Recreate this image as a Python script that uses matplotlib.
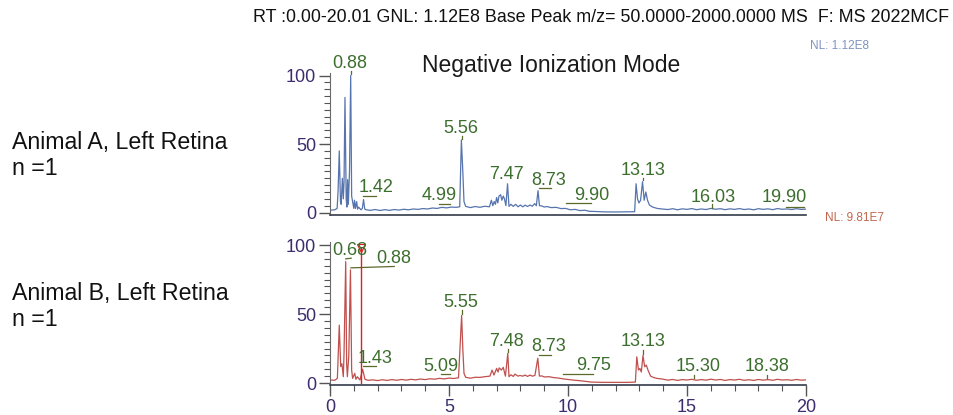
import matplotlib
matplotlib.use('Agg')
import matplotlib.pyplot as plt

plt.rcParams['font.family'] = ['Liberation Sans', 'DejaVu Sans']

time_a = [0.05, 0.20, 0.30, 0.34, 0.39, 0.44, 0.47, 0.52, 0.56, 0.59, 0.63, 0.68, 0.71, 0.74, 0.77,
          0.82, 0.87, 0.91, 0.95, 1.00, 1.03, 1.07, 1.12, 1.16, 1.20, 1.30, 1.36, 1.41, 1.46, 1.52,
          1.7, 1.9, 2.1, 2.3, 2.5, 2.7, 2.9, 3.1, 3.3, 3.5, 3.7, 3.9, 4.1, 4.3, 4.5, 4.7, 4.9, 5.1,
          5.3, 5.45, 5.52, 5.58, 5.63, 5.70, 5.9, 6.1, 6.3, 6.5, 6.7, 6.78, 6.84, 6.90, 6.95, 7.00,
          7.05, 7.10, 7.17, 7.22, 7.28, 7.33, 7.39, 7.46, 7.52, 7.60, 7.70, 7.80, 7.90, 8.00, 8.10,
          8.20, 8.30, 8.40, 8.50, 8.60, 8.67, 8.74, 8.80, 8.90, 9.0, 9.1, 9.3, 9.5, 9.7, 9.9, 10.1,
          10.3, 10.5, 10.7, 10.9, 11.1, 11.5, 12.0, 12.5, 12.8, 12.86, 12.92, 12.98, 13.05, 13.13,
          13.20, 13.27, 13.34, 13.42, 13.55, 13.75, 14.0,
          14.2, 14.4, 14.6, 14.8, 15.0, 15.2, 15.4, 15.6, 15.8, 16.0, 16.2, 16.4, 16.6, 16.8, 17.0,
          17.2, 17.4, 17.6, 17.8, 18.0, 18.2, 18.4, 18.6, 18.8, 19.0, 19.2, 19.4, 19.6, 19.8, 20.0]
intensity_a = [1.8, 2.0, 3.0, 16, 45, 8, 6, 25, 10, 22, 84, 10, 4, 24, 6,
               30, 100, 12, 8, 3, 9, 3, 8, 2.5, 4, 2, 3, 9.5, 2.5, 2,
               1.6, 2.2, 1.5, 2.1, 1.6, 2.2, 1.8, 2.4, 2.0, 2.6, 2.3, 2.9, 2.6, 3.3, 3.0, 3.8, 3.4, 4.0,
               3.8, 4.2, 53, 30, 8, 4.5, 3.6, 4.4, 3.8, 4.6, 4.2, 9, 5, 8, 6, 11,
               7, 12, 13, 9, 12, 10, 5, 21, 4.5, 6, 4.5, 6, 4.2, 5.5, 4.2,
               5.4, 4.4, 5.5, 4.6, 6.5, 5, 16, 5, 4.8, 4.0, 4.4, 3.6, 3.8, 2.9, 3.0, 2.0,
               2.3, 1.4, 1.7, 0.9, 0.8, 0.5, 0.4, 0.5, 0.6, 21, 10, 7, 9, 22.5,
               9, 15, 9, 5.5, 4, 3, 2.5,
               2.2, 2.8, 2.0, 2.7, 2.3, 2.9, 2.1, 2.6, 2.2, 3.0, 2.4, 2.8, 2.1, 2.7, 2.3,
               2.9, 2.2, 2.6, 2.0, 2.8, 2.3, 2.7, 2.1, 2.9, 2.4, 2.6, 2.2, 2.8, 2.3, 2.5]

time_b = [0.05, 0.20, 0.31, 0.39, 0.45, 0.50, 0.56, 0.59, 0.66, 0.70, 0.73, 0.79, 0.86, 0.91, 0.95,
          1.04, 1.09, 1.15, 1.26, 1.37, 1.47, 1.6,
          1.8, 2.0, 2.2, 2.4, 2.6, 2.8, 3.0, 3.2, 3.4, 3.6, 3.8, 4.0, 4.2, 4.4, 4.6, 4.8, 5.0, 5.2,
          5.4, 5.53, 5.58, 5.63, 5.70, 5.9, 6.1, 6.3, 6.5, 6.72, 6.81, 6.89, 7.00, 7.06, 7.11, 7.20,
          7.28, 7.37, 7.47, 7.52, 7.60, 7.70, 7.77, 7.90, 7.98, 8.10, 8.20, 8.30, 8.40, 8.50, 8.61,
          8.73, 8.80, 8.90, 9.0, 9.2, 9.38, 9.6, 9.8, 9.94, 10.1, 10.3, 10.5, 10.7, 10.99, 11.5,
          12.0, 12.5, 12.83, 12.89, 12.96, 13.02, 13.08, 13.15, 13.22, 13.29, 13.36, 13.47, 13.6,
          13.73, 14.0,
          14.2, 14.4, 14.6, 14.8, 15.0, 15.2, 15.4, 15.6, 15.8, 16.0, 16.2, 16.4, 16.6, 16.8, 17.0,
          17.2, 17.4, 17.6, 17.8, 18.0, 18.2, 18.4, 18.6, 18.8, 19.0, 19.2, 19.4, 19.6, 19.8, 20.0]
intensity_b = [2.2, 2.0, 3.4, 42, 12, 14, 4.6, 21.5, 88, 14, 4.6, 20, 82, 9.4, 3.4,
               7, 2.7, 4.6, 2.2, 10, 2.7, 2.0,
               2.3, 1.8, 2.4, 1.9, 2.5, 2.0, 2.6, 2.1, 2.7, 2.3, 2.9, 2.5, 3.1, 2.8, 3.4, 3.0, 3.6, 3.3,
               3.8, 49, 25, 7, 4.2, 3.5, 4.2, 4.1, 4.6, 5, 9.4, 5.8, 10.6, 8, 11, 9.4,
               11.4, 5, 21.5, 4.6, 6, 4.8, 6.5, 5, 5.5, 5, 5.8, 4.8, 5.8, 5, 5.5,
               18, 5, 5.2, 4.4, 4.6, 4.0, 3.6, 3.0, 2.7, 2.4, 2.0, 1.7, 1.3, 0.7, 0.5,
               0.5, 0.5, 0.7, 19, 9.4, 10.6, 8, 20, 11.8, 13, 9.4, 5, 4,
               3.4, 2.8,
               2.1, 2.6, 1.9, 2.5, 2.2, 2.7, 2.0, 2.5, 2.1, 2.8, 2.2, 2.6, 1.9, 2.5, 2.2,
               2.7, 2.0, 2.4, 1.9, 2.6, 2.1, 2.5, 2.0, 2.7, 2.2, 2.4, 2.0, 2.6, 2.1, 2.3]

peaks_a = ['0.88', '1.42', '4.99', '5.56', '7.47', '8.73', '9.90', '13.13', '16.03', '19.90']
peaks_b = ['0.68', '0.88', '1.43', '5.09', '5.55', '7.48', '8.73', '9.75', '13.13', '15.30', '18.38']

sample_a = 'Animal A, Left Retina\nn =1'
sample_b = 'Animal B, Left Retina\nn =1'
header = 'RT :0.00-20.01 GNL: 1.12E8 Base Peak m/z= 50.0000-2000.0000 MS  F: MS 2022MCF'
nl_a = 'NL: 1.12E8'
nl_b = 'NL: 9.81E7'

# Colores
blue = '#5674ad'
red = '#c0504d'
green = '#3c6e2e'
olive = '#5b6b2a'
tick_col = '#3d2d6e'
spine_col = '#333c4a'

# Posicion de las etiquetas (x, y) y conectores
pos_a = [(0.85, 109), (1.92, 18), (4.58, 12.5), (5.50, 61.5), (7.42, 28), (9.19, 23.5),
         (11.0, 12.5), (13.14, 30.4), (16.08, 11.3), (19.08, 11.3)]
pos_b = [(0.85, 96.3), (2.67, 90), (1.90, 17.8), (4.65, 11.7), (5.50, 58.5), (7.42, 30),
         (9.19, 26.3), (11.07, 12.9), (13.14, 30), (15.46, 11.7), (18.38, 11.7)]
segs_a = [((1.39, 1.92), (11.8, 11.8)), ((4.56, 5.03), (6.4, 6.4)), ((8.79, 9.27), (18, 18)),
          ((9.92, 10.96), (6.9, 6.9)), ((19.15, 19.9), (4, 4)),
          ((0.87, 0.87), (101, 103.5)), ((5.53, 5.53), (54, 56)), ((7.46, 7.46), (22, 22.5)),
          ((13.13, 13.13), (23.5, 25)), ((16.03, 16.03), (3.5, 6))]
segs_b = [((0.66, 0.89), (90, 90.5)), ((0.88, 2.7), (83.5, 84.5)), ((1.39, 1.92), (12.2, 12.2)),
          ((4.65, 5.03), (6.3, 6.3)), ((8.79, 9.30), (20.2, 20.2)), ((9.79, 11.05), (6.8, 6.8)),
          ((5.53, 5.53), (50, 53)), ((7.47, 7.47), (22.5, 24.5)), ((13.15, 13.15), (21, 24)),
          ((15.30, 15.30), (3.3, 6)), ((18.38, 18.38), (3.3, 6))]

fig = plt.figure(figsize=(9.54, 4.15), dpi=100)
ax1 = fig.add_axes([0.3459, 0.4829, 0.499, 0.3417])
ax2 = fig.add_axes([0.3459, 0.0720, 0.499, 0.3441])

for ax, t, y, col, labels, pos, segs in [(ax1, time_a, intensity_a, blue, peaks_a, pos_a, segs_a),
                                         (ax2, time_b, intensity_b, red, peaks_b, pos_b, segs_b)]:
    ax.plot(t, y, color=col, lw=0.9)
    for lab, (px, py) in zip(labels, pos):
        ax.text(px, py, lab, color=green, fontsize=13, ha='center', va='center', clip_on=False)
    for xs, ys in segs:
        ax.plot(xs, ys, color=olive, lw=0.9, clip_on=False)
    ax.set_xlim(0, 20)
    ax.set_ylim(-1.5, 102)
    ax.set_yticks([0, 50, 100])
    ax.set_yticks(range(0, 101, 5), minor=True)
    ax.set_xticks([0, 5, 10, 15, 20])
    ax.set_xticks(range(0, 21), minor=True)
    for s in ['top', 'right']:
        ax.spines[s].set_visible(False)
    ax.spines['left'].set_color('#6a6a6a')
    ax.spines['bottom'].set_color(spine_col)
    ax.spines['bottom'].set_linewidth(1.2)
    ax.tick_params(axis='both', which='major', length=8, width=1, color='#555555',
                   labelcolor=tick_col, labelsize=13, pad=2)
    ax.tick_params(axis='both', which='minor', length=4, width=0.8, color='#555555')
    ax.patch.set_alpha(0)

ax1.tick_params(axis='x', which='both', bottom=False, labelbottom=False)

# Cursor rojo en el panel inferior
ax2.plot([1.30, 1.30], [0, 98], color='#e02020', lw=1.0)
ax2.plot([1.30], [98], marker='v', ms=6, mfc='none', mec='#e02020', mew=0.9, clip_on=False)

fig.text(0.265, 0.959, header, fontsize=12.9, color='#111111', ha='left', va='center')
fig.text(0.578, 0.841, 'Negative Ionization Mode', fontsize=16.5, color='#1a1a1a',
         ha='center', va='center')
fig.text(0.849, 0.889, nl_a, fontsize=8.5, color='#7d93c0', ha='left', va='center')
fig.text(0.865, 0.474, nl_b, fontsize=8.5, color='#c0664f', ha='left', va='center')
fig.text(0.0126, 0.625, sample_a, fontsize=16.7, color='#111111', ha='left', va='center',
         linespacing=1.15)
fig.text(0.0126, 0.262, sample_b, fontsize=16.7, color='#111111', ha='left', va='center',
         linespacing=1.15)

plt.savefig('out.png', dpi=100)
